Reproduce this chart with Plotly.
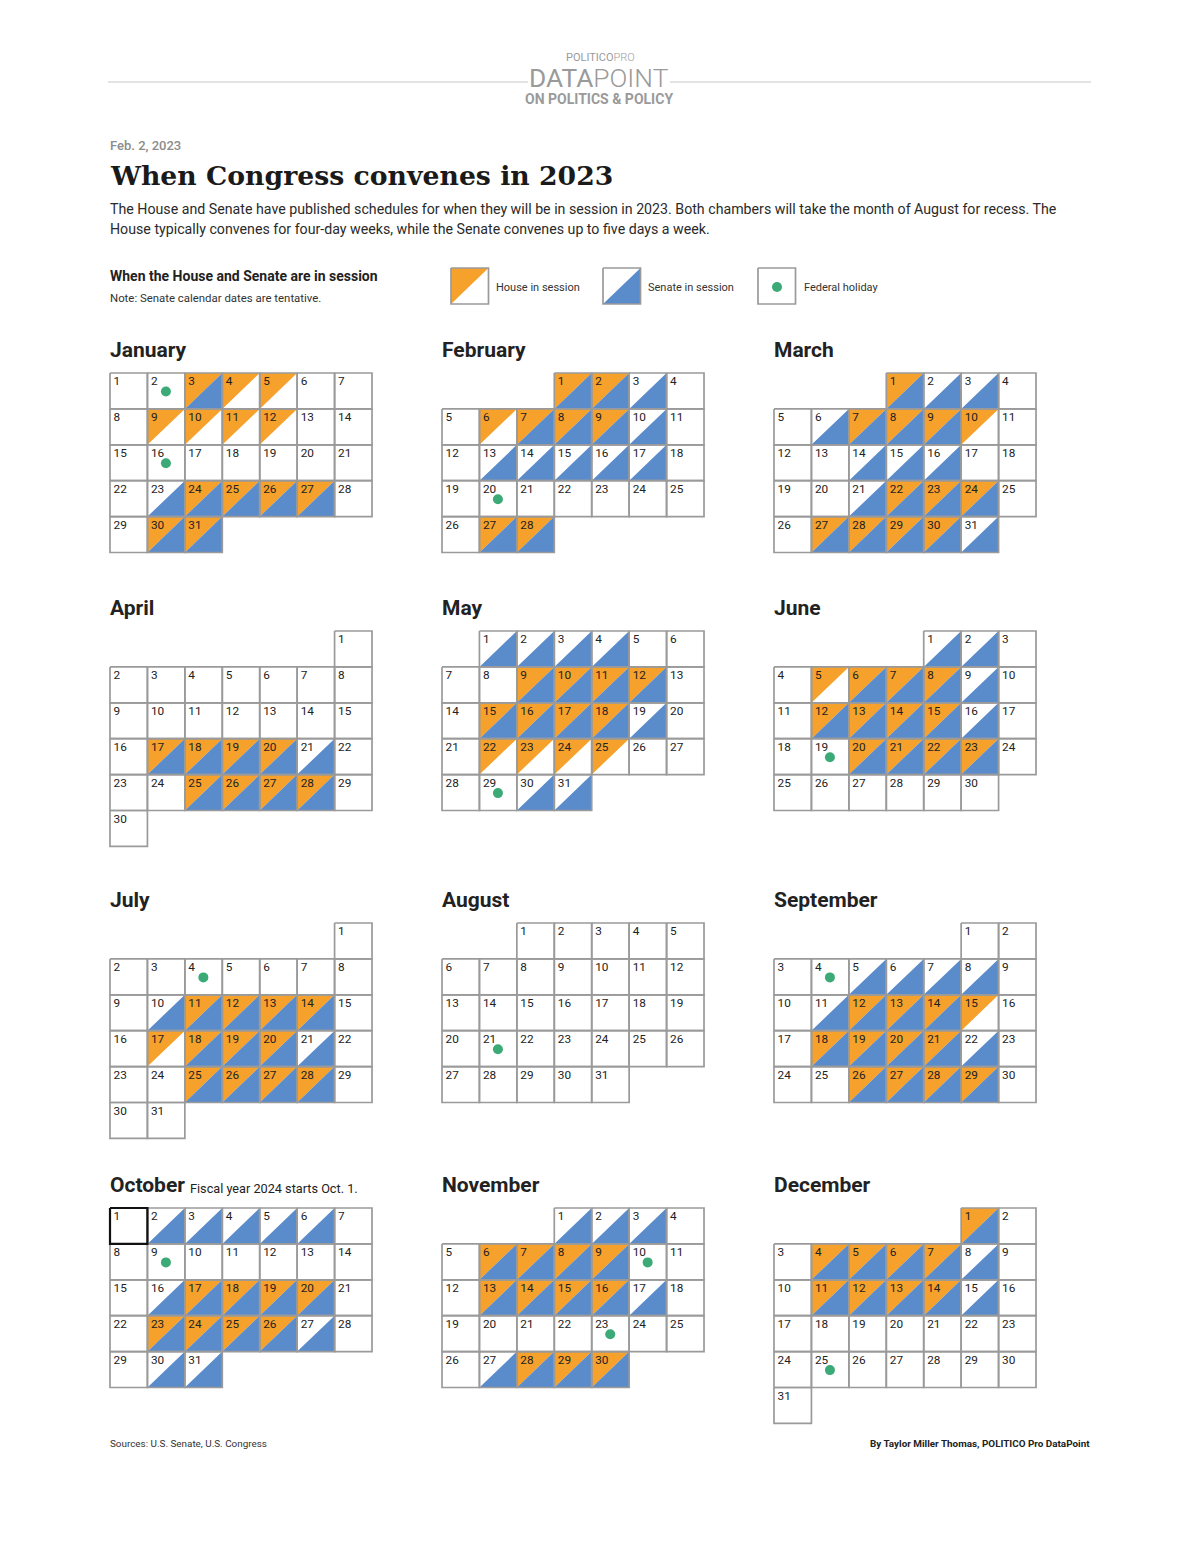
import datetime
import plotly.graph_objects as go

# ---------------- DATA ----------------
YEAR = 2023
month_names = ["January", "February", "March", "April", "May", "June",
               "July", "August", "September", "October", "November", "December"]

house_days = [
    [3, 4, 5, 9, 10, 11, 12, 24, 25, 26, 27, 30, 31],
    [1, 2, 6, 7, 8, 9, 27, 28],
    [1, 7, 8, 9, 10, 22, 23, 24, 27, 28, 29, 30],
    [17, 18, 19, 20, 25, 26, 27, 28],
    [9, 10, 11, 12, 15, 16, 17, 18, 22, 23, 24, 25],
    [5, 6, 7, 8, 12, 13, 14, 15, 20, 21, 22, 23],
    [11, 12, 13, 14, 17, 18, 19, 20, 25, 26, 27, 28],
    [],
    [12, 13, 14, 15, 18, 19, 20, 21, 26, 27, 28, 29],
    [17, 18, 19, 20, 23, 24, 25, 26],
    [6, 7, 8, 9, 13, 14, 15, 16, 28, 29, 30],
    [1, 4, 5, 6, 7, 11, 12, 13, 14],
]

senate_days = [
    [3, 23, 24, 25, 26, 27, 30, 31],
    [1, 2, 3, 7, 8, 9, 10, 13, 14, 15, 16, 17, 27, 28],
    [1, 2, 3, 6, 7, 8, 9, 14, 15, 16, 21, 22, 23, 24, 27, 28, 29, 30, 31],
    [17, 18, 19, 20, 21, 25, 26, 27, 28],
    [1, 2, 3, 4, 9, 10, 11, 12, 15, 16, 17, 18, 19, 30, 31],
    [1, 2, 6, 7, 8, 9, 12, 13, 14, 15, 16, 20, 21, 22, 23],
    [10, 11, 12, 13, 14, 18, 19, 20, 21, 25, 26, 27, 28],
    [],
    [5, 6, 7, 8, 11, 12, 13, 14, 18, 19, 20, 21, 22, 26, 27, 28, 29],
    [2, 3, 4, 5, 6, 16, 17, 18, 19, 20, 23, 24, 25, 26, 27, 30, 31],
    [1, 2, 3, 6, 7, 8, 9, 13, 14, 15, 16, 17, 27, 28, 29, 30],
    [1, 4, 5, 6, 7, 8, 11, 12, 13, 14, 15],
]

holiday_months = [1, 1, 2, 5, 6, 7, 8, 9, 10, 11, 11, 12]
holiday_days = [2, 16, 20, 29, 19, 4, 21, 4, 9, 10, 23, 25]

fiscal_start_month = 10
fiscal_start_day = 1

# ---------------- STYLE / LAYOUT ----------------
W, H = 1200, 1555
PAD = 8  # default body margin of the html page
ORANGE = "#F5A12C"
BLUE = "#5A8BCB"
GREEN = "#3BAA76"
GRID = "#9a9a9a"
INK = "#222222"
FONT = "Roboto"

CW, CH = 37.43, 35.9
GROUP_X = [110, 442, 774]
GROUP_Y = [373, 631, 923, 1208]


def cell_box(m, d):
    gx = GROUP_X[(m - 1) % 3]
    gy = GROUP_Y[(m - 1) // 3]
    first_col = (datetime.date(YEAR, m, 1).weekday() + 1) % 7
    idx = first_col + d - 1
    col, row = idx % 7, idx // 7
    L = gx + col * CW
    T = gy + row * CH
    return L, T, L + CW, T + CH


def days_in_month(m):
    nxt = datetime.date(YEAR + (m // 12), m % 12 + 1, 1)
    return (nxt - datetime.timedelta(days=1)).day


ox, oy, bx, by = [], [], [], []
gxs, gys = [], []
tx, ty, tt = [], [], []
for m in range(1, 13):
    for d in range(1, days_in_month(m) + 1):
        L, T, R, B = cell_box(m, d)
        if d in house_days[m - 1]:
            ox += [L, R, L, L, None]
            oy += [T, T, B, T, None]
        if d in senate_days[m - 1]:
            bx += [R, R, L, R, None]
            by += [T, B, B, T, None]
        gxs += [L, R, R, L, L, None]
        gys += [T, T, B, B, T, None]
        tx.append(L + 3.5)
        ty.append(T + 9.5)
        tt.append(str(d))

hx, hy = [], []
for m, d in zip(holiday_months, holiday_days):
    L, T, R, B = cell_box(m, d)
    hx.append(L + 18.5)
    hy.append(T + 18.5)

# legend key boxes
LEG_Y = 268
leg_boxes = [451, 603, 758]
for i, lx in enumerate(leg_boxes):
    L, T, R, B = lx, LEG_Y, lx + 37.5, LEG_Y + 36
    if i == 0:
        ox += [L, R, L, L, None]
        oy += [T, T, B, T, None]
    elif i == 1:
        bx += [R, R, L, R, None]
        by += [T, B, B, T, None]
    else:
        hx.append(L + 19)
        hy.append(T + 19)
    gxs += [L, R, R, L, L, None]
    gys += [T, T, B, B, T, None]

fig = go.Figure()
fig.add_trace(go.Scatter(x=ox, y=oy, mode="lines", fill="toself", fillcolor=ORANGE,
                         line=dict(width=0, color=ORANGE), hoverinfo="skip"))
fig.add_trace(go.Scatter(x=bx, y=by, mode="lines", fill="toself", fillcolor=BLUE,
                         line=dict(width=0, color=BLUE), hoverinfo="skip"))
fig.add_trace(go.Scatter(x=gxs, y=gys, mode="lines",
                         line=dict(width=1.7, color=GRID), hoverinfo="skip"))
L, T, R, B = cell_box(fiscal_start_month, fiscal_start_day)
fig.add_trace(go.Scatter(x=[L, R, R, L, L], y=[T, T, B, B, T], mode="lines",
                         line=dict(width=2.2, color="#111"), hoverinfo="skip"))
fig.add_trace(go.Scatter(x=hx, y=hy, mode="markers",
                         marker=dict(size=10, color=GREEN), hoverinfo="skip"))
fig.add_trace(go.Scatter(x=tx, y=ty, mode="text", text=tt, textposition="middle right",
                         textfont=dict(family=FONT, size=11.8, color=INK), hoverinfo="skip"))

ann = []


def text(x, y, s, size, color=INK, bold=False, anchor="left", family=FONT, weight=None):
    f = dict(family=family, size=size, color=color)
    if weight is not None:
        f["weight"] = weight
    elif bold:
        f["weight"] = "bold"
    shift = {"left": -2, "right": 2, "center": 0}[anchor]
    ann.append(dict(x=x, y=y, xref="x", yref="y", text=s, showarrow=False,
                    xanchor=anchor, yanchor="middle", xshift=shift, font=f))


text(600, 57, "POLITICO<span style='font-weight:300'>PRO</span>", 11, color="#9a9a9a", anchor="center")
text(599, 78, "DATA<span style='font-weight:300'>POINT</span>", 26.3, color="#9a9a9a", anchor="center")
text(599, 99, "ON POLITICS &amp; POLICY", 14, color="#9a9a9a", bold=True, anchor="center")
text(110, 145, "Feb. 2, 2023", 13, color="#8c8c8c", weight=500)
text(110, 175, "When Congress convenes in 2023", 26.7, color="#1a1a1a", bold=True, family="DejaVu Serif")
text(110, 209, "The House and Senate have published schedules for when they will be in session in 2023. "
               "Both chambers will take the month of August for recess. The", 14.2, color="#2a2a2a")
text(110, 229, "House typically convenes for four-day weeks, while the Senate convenes up to five days a week.",
     14.2, color="#2a2a2a")
text(110, 276, "When the House and Senate are in session", 14, bold=True)
text(110, 298, "Note: Senate calendar dates are tentative.", 11.4, color="#333")
text(496, 287, "House in session", 11, color="#333")
text(648, 287, "Senate in session", 11, color="#333")
text(804, 287, "Federal holiday", 11, color="#333")

for i, name in enumerate(month_names):
    gx = GROUP_X[i % 3]
    gy = GROUP_Y[i // 3]
    text(gx, gy - 23, name, 21, bold=True)
text(190, GROUP_Y[3] - 20, "Fiscal year 2024 starts Oct. 1.", 12.7, color="#222")

text(110, 1443, "Sources: U.S. Senate, U.S. Congress", 9.9, color="#333")
text(1090, 1443, "By Taylor Miller Thomas, POLITICO Pro DataPoint", 9.9, bold=True, anchor="right")

shapes = [
    dict(type="line", xref="x", yref="y", x0=108, x1=528, y0=82, y1=82, line=dict(color="#c8c8c8", width=1.2)),
    dict(type="line", xref="x", yref="y", x0=670, x1=1091, y0=82, y1=82, line=dict(color="#c8c8c8", width=1.2)),
]

fig.update_layout(
    width=W - 2 * PAD, height=H - 2 * PAD, margin=dict(l=0, r=0, t=0, b=0),
    paper_bgcolor="white", plot_bgcolor="white", showlegend=False,
    xaxis=dict(range=[PAD, W - PAD], visible=False, fixedrange=True),
    yaxis=dict(range=[H - PAD, PAD], visible=False, fixedrange=True),
    annotations=ann, shapes=shapes,
)
fig.write_html("out.html", config=dict(displayModeBar=False))
